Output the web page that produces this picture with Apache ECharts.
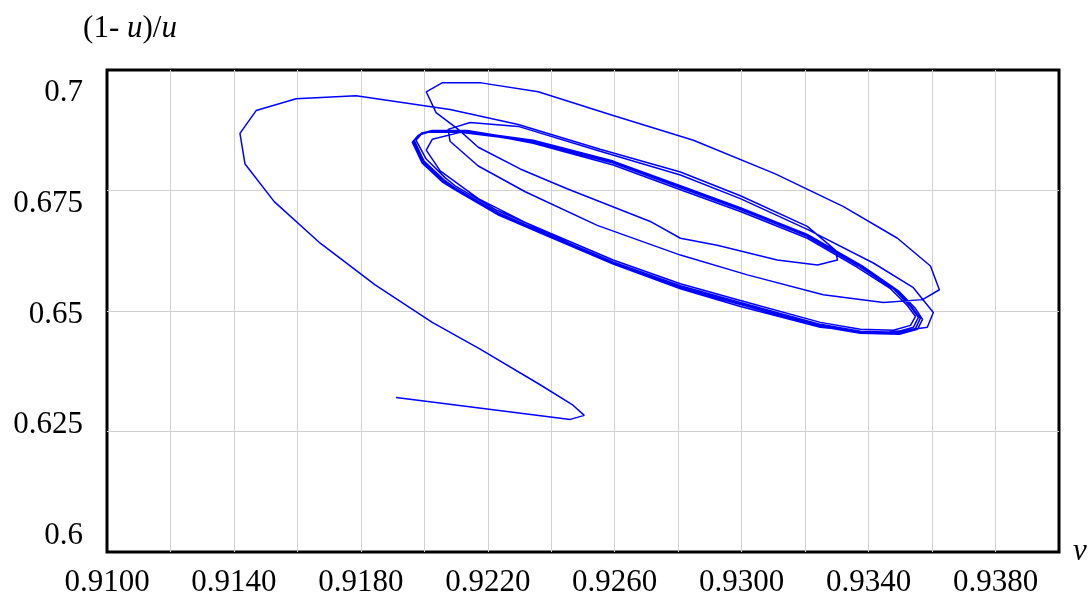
<!DOCTYPE html>
<html><head><meta charset="utf-8">
<script src="https://cdn.jsdelivr.net/npm/echarts@6/dist/echarts.min.js"></script>
<style>html,body{margin:0;padding:0;background:#fff}#c{width:1090px;height:598px}</style>
</head><body><div id="c"></div>
<script>
// trajectory: v (horizontal) and (1-u)/u (vertical)
const vValues = [
0.91911,0.92460,0.92504,0.92466,0.92365,0.92176,0.92025,0.91845,0.91672,0.91527,0.91435,0.91419,0.91470,0.91596,0.91785,
0.92081,0.92296,0.92554,0.92807,0.92996,0.93207,0.93295,0.93302,0.93239,0.93112,0.92923,0.92807,0.92712,0.92450,0.92302,
0.92170,0.92107,0.92037,0.92006,0.92056,0.92179,0.92359,0.92595,0.92848,0.93106,0.93321,0.93491,0.93595,0.93623,0.93570,
0.93447,0.93257,0.93018,0.92807,0.92545,0.92318,0.92170,0.92081,0.92075,0.92144,0.92296,0.92554,0.92807,0.92996,0.93207,
0.93415,0.93541,0.93604,0.93585,0.93541,0.93437,0.93248,0.92996,0.92807,0.92595,0.92324,0.92170,0.92050,0.92006,0.92025,0.92113,
0.92343,0.92595,0.92807,0.92996,0.93207,0.93374,0.93485,0.93538,0.93563,0.93548,0.93491,0.93374,0.93248,0.92996,0.92807,
0.92595,0.92397,0.92230,0.92097,0.92059,0.91996,0.91965,0.91987,0.92018,0.92135,
0.92343,0.92595,0.92807,0.92996,0.93207,0.93380,0.93494,0.93548,0.93570,0.93554,0.93497,0.93374,0.93248,0.92996,0.92807,
0.92595,0.92397,0.92230,0.92097,0.92056,0.91993,0.91962,0.91981,0.92012,0.92135,
0.92343,0.92595,0.92807,0.92996,0.93207,0.93368,0.93478,0.93532,0.93557,0.93541,0.93485,0.93374,0.93248,0.92996,0.92807,
0.92595,0.92397,0.92230,0.92097,0.92062,0.91999,0.91968,0.91990,0.92025,0.92135,
0.92343,0.92595,0.92807,0.92996,0.93207,0.93362,0.93469,0.93522,0.93548,0.93532,0.93478,0.93374,0.93248,0.92996,0.92807,
0.92595,0.92397,0.92230,0.92097,0.92066,0.92006,0.91974,0.91993,0.92028,0.92135,
0.92343,0.92595
];
const ratioValues = [
0.63203,0.62751,0.62834,0.63059,0.63470,0.64209,0.64764,0.65544,0.66407,0.67269,0.68049,0.68686,0.69158,0.69405,0.69466,
0.69179,0.68871,0.68357,0.67885,0.67392,0.66756,0.66263,0.66057,0.65955,0.66057,0.66365,0.66509,0.66858,0.67536,0.67947,
0.68398,0.68768,0.69117,0.69548,0.69733,0.69733,0.69548,0.69055,0.68542,0.67844,0.67166,0.66509,0.65934,0.65441,0.65236,
0.65175,0.65339,0.65749,0.66160,0.66776,0.67474,0.68008,0.68522,0.68768,0.68912,0.68830,0.68316,0.67823,0.67331,0.66694,
0.65996,0.65483,0.64969,0.64661,0.64620,0.64538,0.64661,0.65092,0.65462,0.65975,0.66817,0.67331,0.67906,0.68337,0.68563,0.68706,
0.68522,0.68090,0.67577,0.67125,0.66571,0.65934,0.65441,0.65072,0.64846,0.64640,0.64538,0.64558,0.64702,0.65154,0.65503,
0.65996,0.66550,0.67023,0.67536,0.67700,0.68090,0.68522,0.68665,0.68727,0.68727,
0.68545,0.68110,0.67600,0.67145,0.66590,0.65935,0.65420,0.65050,0.64825,0.64620,0.64518,0.64538,0.64680,0.65133,0.65483,
0.65975,0.66530,0.67003,0.67515,0.67680,0.68070,0.68500,0.68645,0.68706,0.68706,
0.68500,0.68070,0.67556,0.67105,0.66550,0.65934,0.65460,0.65092,0.64867,0.64661,0.64558,0.64579,0.64723,0.65175,0.65524,
0.66016,0.66571,0.67044,0.67556,0.67721,0.68111,0.68542,0.68686,0.68747,0.68747,
0.68480,0.68029,0.67515,0.67064,0.66509,0.65914,0.65462,0.65113,0.64887,0.64702,0.64600,0.64620,0.64764,0.65216,0.65565,
0.66057,0.66612,0.67084,0.67598,0.67762,0.68152,0.68542,0.68686,0.68747,0.68747,
0.68522,0.68090
];
const xMin = 0.91, xMax = 0.94, xStep = 0.002;
const yMin = 0.6, yMax = 0.7, yStep = 0.025;
const yTickLabels = [0.6, 0.625, 0.65, 0.675, 0.7];
const xName = 'v';
const yName = '(1- {i|u})/{i|u}';

const pts = vValues.map((v, i) => [v, ratioValues[i]]);
const font = 'Liberation Serif, Times New Roman, serif';
const chart = echarts.init(document.getElementById('c'), null, {renderer: 'canvas'});
chart.setOption({
  animation: false,
  backgroundColor: '#fff',
  grid: {left: 107, right: 31, top: 70, bottom: 41, show: true, borderColor: '#000', borderWidth: 3, containLabel: false},
  xAxis: {
    type: 'value', min: xMin, max: xMax, interval: xStep,
    axisLine: {show: false}, axisTick: {show: false},
    splitLine: {show: true, showMinLine: false, showMaxLine: false, lineStyle: {color: '#d2d2d2', width: 1}},
    axisLabel: {
      margin: 15, color: '#000', fontFamily: font, fontSize: 31, showMaxLabel: false,
      formatter: (val, idx) => (idx % 2 === 0 ? val.toFixed(4) : '')
    },
    name: xName, nameLocation: 'end', nameGap: 14,
    nameTextStyle: {fontFamily: font, fontSize: 31, fontStyle: 'italic', color: '#000', padding: [0, 0, 18, 0]}
  },
  yAxis: [{
    type: 'value', min: yMin, max: yMax, interval: yStep,
    axisLine: {show: false}, axisTick: {show: false},
    splitLine: {show: true, showMinLine: false, showMaxLine: false, lineStyle: {color: '#d2d2d2', width: 1}},
    axisLabel: {show: false},
    name: yName, nameLocation: 'end', nameGap: 26,
    nameTextStyle: {fontFamily: font, fontSize: 31, color: '#000', align: 'center', padding: [0, 0, 0, 46],
      rich: {i: {fontFamily: font, fontSize: 31, fontStyle: 'italic', color: '#000'}}}
  }, {
    type: 'value', position: 'left', min: 0.59643, max: 0.70513,
    axisLine: {show: false}, axisTick: {show: false}, splitLine: {show: false},
    axisLabel: {customValues: yTickLabels, margin: 24, color: '#000', fontFamily: font, fontSize: 31,
      formatter: (val) => String(val)}
  }],
  series: [{
    type: 'line', data: pts, xAxisIndex: 0, yAxisIndex: 0,
    showSymbol: false, symbol: 'none', smooth: false,
    lineStyle: {color: '#0000ff', width: 1.5}
  }]
});
</script>
</body></html>
